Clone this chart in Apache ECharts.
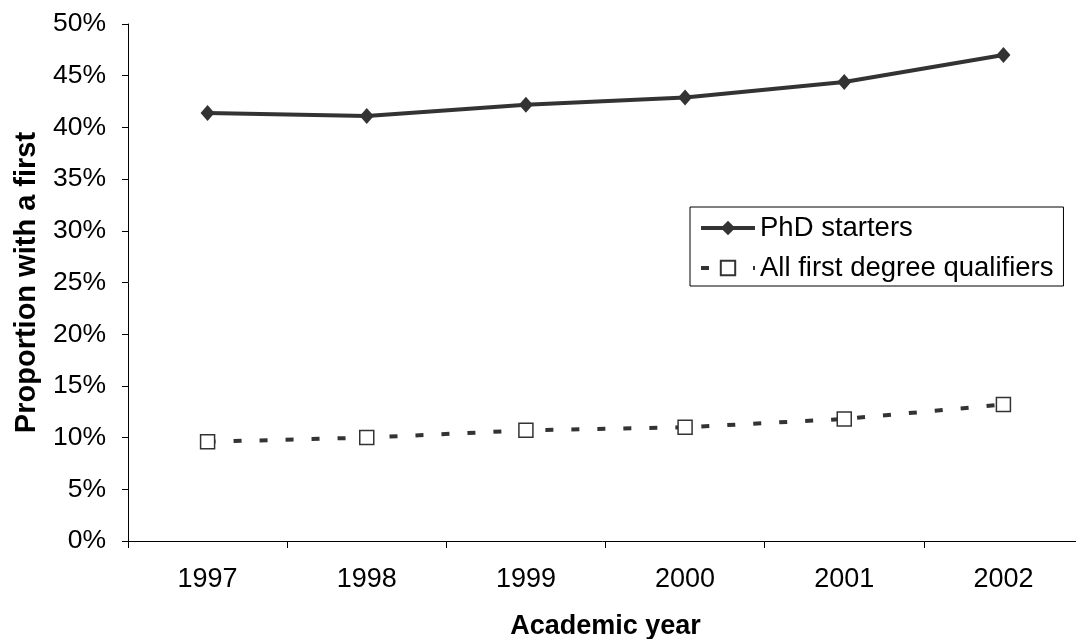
<!DOCTYPE html>
<html>
<head>
<meta charset="utf-8">
<script src="https://cdn.jsdelivr.net/npm/echarts@6/dist/echarts.min.js"></script>
<style>html,body{margin:0;padding:0;background:#fff}#c{width:1076px;height:639px}</style>
</head>
<body>
<div id="c"></div>
<script>
const years = ['1997', '1998', '1999', '2000', '2001', '2002'];
const phdStarters = [41.4, 41.1, 42.2, 42.9, 44.4, 47.0];
const allFirstDegree = [9.6, 10.0, 10.7, 11.0, 11.8, 13.2];
const seriesNames = ['PhD starters', 'All first degree qualifiers'];

const FONT = '"Liberation Sans", Arial, sans-serif';
const chart = echarts.init(document.getElementById('c'), null, {renderer: 'canvas'});
chart.setOption({
  backgroundColor: '#fff',
  animation: false,
  textStyle: {fontFamily: FONT, color: '#000'},
  grid: {left: 128, top: 24, width: 955, height: 517, containLabel: false, outerBoundsMode: 'none'},
  legend: {
    orient: 'vertical',
    left: 690, top: 207,
    padding: [7, 10, 4, 9],
    itemGap: 12,
    itemWidth: 54, itemHeight: 18,
    borderColor: '#000', borderWidth: 1,
    borderRadius: 0,
    backgroundColor: '#fff',
    lineStyle: {width: 4},
    textStyle: {fontFamily: FONT, fontSize: 27.5, color: '#000'},
    data: seriesNames
  },
  xAxis: {
    type: 'category',
    data: years,
    boundaryGap: true,
    name: 'Academic year',
    nameLocation: 'middle',
    nameGap: 72,
    nameTextStyle: {fontFamily: FONT, fontSize: 27, fontWeight: 'bold', color: '#000'},
    axisLine: {lineStyle: {color: '#000', width: 1}},
    axisTick: {show: true, alignWithLabel: false, length: 7, lineStyle: {color: '#000'}},
    axisLabel: {fontFamily: FONT, fontSize: 27, color: '#000', margin: 25},
    splitLine: {show: false}
  },
  yAxis: {
    type: 'value',
    min: 0, max: 50, interval: 5,
    name: 'Proportion with a first',
    nameLocation: 'middle',
    nameGap: 87,
    nameRotate: 90,
    nameTextStyle: {fontFamily: FONT, fontSize: 29, fontWeight: 'bold', color: '#000'},
    axisLine: {show: true, lineStyle: {color: '#000', width: 1}},
    axisTick: {show: true, length: 6, lineStyle: {color: '#000'}},
    axisLabel: {fontFamily: FONT, fontSize: 26.5, color: '#000', margin: 22, formatter: '{value}%'},
    splitLine: {show: false}
  },
  series: [
    {
      name: seriesNames[0],
      type: 'line',
      data: phdStarters,
      symbol: 'diamond',
      symbolSize: [14, 16],
      showAllSymbol: true,
      color: '#333',
      lineStyle: {color: '#333', width: 4},
      itemStyle: {color: '#333', borderColor: '#333', borderWidth: 0}
    },
    {
      name: seriesNames[1],
      type: 'line',
      data: allFirstDegree,
      symbol: 'rect',
      symbolSize: 14,
      showAllSymbol: true,
      color: '#333',
      lineStyle: {color: '#333', width: 4, type: [8, 18]},
      itemStyle: {color: '#fff', borderColor: '#333', borderWidth: 1.5}
    }
  ]
});
</script>
</body>
</html>
